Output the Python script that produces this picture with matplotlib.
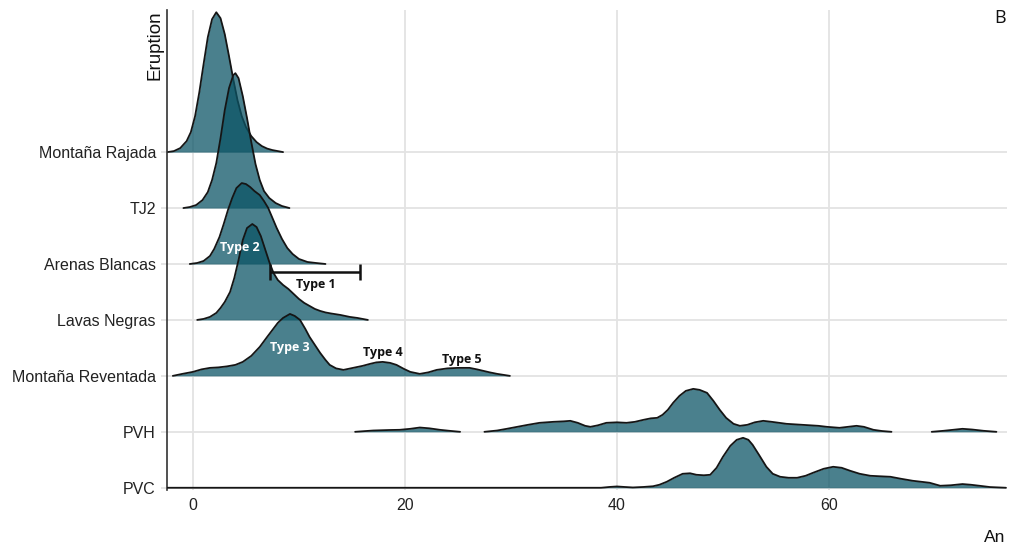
import numpy as np
import matplotlib
matplotlib.use("Agg")
import matplotlib.pyplot as plt

# An content distributions per eruption (ridge heights in relative units)
eruptions = ["PVC", "PVH", "Montaña Reventada", "Lavas Negras",
             "Arenas Blancas", "TJ2", "Montaña Rajada"]

rajada_x = [-2.4, -1.8, -1.2, -0.6, -0.2, 0.2, 0.6, 1.0, 1.4, 1.8, 2.2, 2.6, 3.0, 3.4,
            3.8, 4.2, 4.6, 5.0, 5.5, 6.0, 6.5, 7.0, 7.5, 8.0, 8.5]
rajada_h = [0, 1, 4, 11, 20, 36, 60, 88, 115, 133, 140, 134, 118, 96,
            73, 52, 36, 25, 16, 10, 6, 3.5, 2, 1, 0]

tj2_x = [-0.9, -0.3, 0.3, 0.9, 1.4, 1.8, 2.2, 2.6, 3.0, 3.4, 3.8, 4.0, 4.3, 4.7,
         5.1, 5.5, 5.9, 6.3, 6.7, 7.2, 7.8, 8.4, 9.1]
tj2_h = [0, 1, 3, 8, 16, 28, 45, 70, 98, 120, 133, 135, 130, 112,
         90, 66, 44, 28, 17, 10, 5, 2, 0]

arenas_x = [-0.3, 0.4, 1.0, 1.6, 2.0, 2.5, 2.9, 3.3, 3.7, 4.1, 4.6, 5.0, 5.4, 5.8,
            6.3, 6.7, 7.1, 7.5, 7.9, 8.4, 8.9, 9.4, 10.0, 10.8, 11.6, 12.5]
arenas_h = [0, 1, 3, 8, 15, 27, 40, 54, 66, 76, 81, 80, 77, 73,
            69, 63, 56, 46, 36, 25, 16, 10, 5, 2, 1, 0]

lavas_x = [0.4, 1.0, 1.6, 2.2, 2.6, 3.0, 3.5, 3.9, 4.3, 4.7, 5.1, 5.6, 6.0, 6.4, 6.8,
           7.2, 7.6, 8.0, 8.5, 9.0, 9.5, 10.0, 10.5, 11.0, 11.5, 12.0, 12.5, 13.0,
           13.9, 14.8, 15.5, 16.5]
lavas_h = [0, 1, 3, 7, 12, 18, 28, 42, 60, 80, 92, 96, 93, 84, 71,
           58, 47, 40, 35, 31, 26, 21, 17, 14, 11, 9, 7.5, 6.5,
           5, 3, 2, 0]

reventada_x = [-1.9, -1.0, 0.0, 0.8, 1.6, 2.4, 3.2, 4.0, 4.7, 5.5, 6.3, 7.0, 7.5, 8.0,
               8.5, 9.15, 9.6, 10.1, 10.6, 11.0, 11.5, 12.0, 12.5, 12.9, 13.5, 14.2,
               15.1, 16.0, 16.7, 17.3, 17.9, 18.6, 19.2, 19.9, 20.5, 21.4, 22.2, 23.0,
               24.0, 25.0, 26.1, 26.8, 27.4, 28.0, 28.7, 29.9]
reventada_h = [0, 2, 4, 6.5, 8, 8.5, 9.5, 11, 14, 20, 29, 39, 46, 53,
               58, 62, 60, 56, 47, 39, 31, 23, 16, 11, 7.5, 6,
               8, 10, 12, 13.5, 14, 13, 11, 7, 4, 2, 3.5, 6,
               7.5, 8, 8, 6.5, 5, 3.5, 2, 0]

# PVH is split where the density drops below the cut-off
pvh_x = [
    [15.3, 16.2, 17.0, 18.5, 19.5, 20.5, 21.4, 22.3, 23.3, 24.2, 25.2],
    [27.5, 28.7, 29.6, 30.6, 31.6, 32.7, 34.0, 35.0, 35.6, 36.3, 37.0, 37.5, 38.2,
     39.0, 40.0, 40.9, 41.7, 42.5, 43.2, 43.8, 44.3, 44.8, 45.3, 45.9, 46.5, 47.2,
     47.8, 48.5, 49.1, 49.7, 50.3, 51.0, 51.6, 52.3, 53.0, 53.8, 54.6, 56.0, 57.5,
     59.0, 59.8, 61.0, 61.8, 62.6, 63.3, 64.2, 65.0, 65.9],
    [69.7, 70.8, 71.7, 72.6, 73.5, 74.6, 75.8],
]
pvh_h = [
    [0, 0.7, 1.3, 1.8, 2, 3, 4.3, 3.5, 2, 1, 0],
    [0, 1.3, 3, 5, 7, 9, 10, 10.5, 11, 9, 6, 5, 6.5,
     9, 9.5, 9, 10, 12, 13.5, 14, 17, 22, 29, 36, 41, 43,
     42, 39, 31, 22, 14, 8, 6, 7, 9.5, 11, 10, 8, 7,
     6, 5, 4, 5, 6, 5, 2, 0.8, 0],
    [0, 1, 2, 3, 2.3, 1, 0],
]

pvc_x = [-2.4, 38.5, 39.3, 40.0, 40.7, 41.5, 42.5, 43.4, 44.0, 44.7, 45.4, 46.2, 46.9,
         47.5, 48.2, 48.8, 49.4, 50.0, 50.7, 51.3, 51.9, 52.4, 52.8, 53.4, 54.1, 54.7,
         55.4, 56.2, 57.0, 57.8, 58.5, 59.5, 60.4, 61.2, 62.0, 62.9, 63.9, 64.8, 65.8,
         66.8, 67.9, 68.7, 69.5, 70.0, 70.5, 71.5, 72.6, 73.4, 74.2, 75.2, 76.7]
pvc_h = [0, 0, 0.8, 1.3, 0.8, 0.3, 0.8, 1.5, 3, 6, 10, 14, 14.5,
         13, 12.5, 13, 20, 31, 42, 48, 50, 48, 43, 33, 21, 14,
         11, 10, 10, 12, 15, 19, 21, 20, 17, 14, 12, 11.5, 11,
         9, 7, 6, 5, 3.5, 2, 2.5, 3.7, 3, 2, 0.7, 0]

ridges = {
    "Montaña Rajada": [(rajada_x, rajada_h)],
    "TJ2": [(tj2_x, tj2_h)],
    "Arenas Blancas": [(arenas_x, arenas_h)],
    "Lavas Negras": [(lavas_x, lavas_h)],
    "Montaña Reventada": [(reventada_x, reventada_h)],
    "PVH": list(zip(pvh_x, pvh_h)),
    "PVC": [(pvc_x, pvc_h)],
}

# plagioclase type labels: (text, An, level, colour)
type_labels = [
    ("Type 2", 4.45, 4.29, "white"),
    ("Type 1", 11.6, 3.64, "#111111"),
    ("Type 3", 9.15, 2.50, "white"),
    ("Type 4", 17.9, 2.41, "#111111"),
    ("Type 5", 25.4, 2.29, "#111111"),
]
type1_range = (7.3, 15.8)
type1_level = 3.857

scale = 1 / 56.0
fill_col = "#0b5465"

plt.rcParams["font.family"] = ["Liberation Sans", "DejaVu Sans"]
fig = plt.figure(figsize=(10.1, 5.47), dpi=100)
ax = fig.add_axes([167 / 1010, 57 / 547, 840 / 1010, 480 / 547])

for xv in [0, 20, 40, 60]:
    ax.axvline(xv, color="#e3e3e3", lw=1.3, zorder=0)
for i in range(len(eruptions)):
    ax.axhline(i, color="#e3e3e3", lw=1.3, zorder=0)

# top rows first so lower ridges sit in front
z = 1
for name in eruptions[::-1]:
    base = eruptions.index(name)
    for xs, hs in ridges[name]:
        xs = np.array(xs)
        top = base + np.array(hs) * scale
        ax.fill_between(xs, base, top, color=fill_col, alpha=0.74, lw=0, zorder=z)
        ax.plot(xs, top, color="#151515", lw=1.3, zorder=z + 0.5,
                solid_joinstyle="round", solid_capstyle="round")
    z += 1

for txt, xv, yv, col in type_labels:
    ax.text(xv, yv, txt, color=col, fontsize=9, fontweight="bold",
            family=["Open Sans", "DejaVu Sans"], ha="center", va="center", zorder=20)

mid = (type1_range[0] + type1_range[1]) / 2
half = (type1_range[1] - type1_range[0]) / 2
ax.errorbar(mid, type1_level, xerr=half, color="#111111", lw=1.8, capsize=6,
            capthick=1.8, zorder=20)

ax.set_xlim(-2.45, 76.8)
ax.set_ylim(-0.04, 8.54)
ax.set_xticks([0, 20, 40, 60])
ax.set_yticks(range(len(eruptions)))
ax.set_yticklabels(eruptions)
ax.tick_params(axis="x", length=0, pad=6, labelsize=11.5, labelcolor="#222222")
ax.tick_params(axis="y", length=4, color="#e3e3e3", width=1.3, pad=4,
               labelsize=11.5, labelcolor="#222222")
for s in ["top", "right", "bottom"]:
    ax.spines[s].set_visible(False)
ax.spines["left"].set_color("#333333")
ax.spines["left"].set_linewidth(1.2)

fig.text(155 / 1010, 1 - 10 / 547, "Eruption", rotation=90, ha="center", va="top",
         fontsize=13.5, color="#111111")
fig.text(995 / 1010, 1 - 537 / 547, "An", ha="center", va="center",
         fontsize=12.5, color="#111111")
fig.text(1000 / 1010, 1 - 18 / 547, "B", ha="center", va="center",
         fontsize=13, family=["Open Sans", "DejaVu Sans"], color="#111111")

fig.savefig("out.png", dpi=100)
